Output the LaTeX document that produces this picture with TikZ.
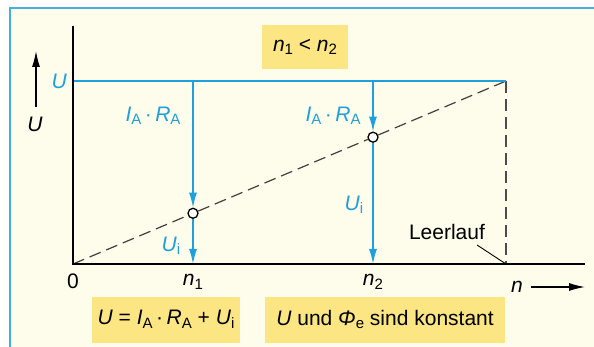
\documentclass[tikz,border=0pt]{standalone}
\usepackage{fontspec}
\setmainfont{Liberation Sans}
\usetikzlibrary{arrows.meta, positioning}
\definecolor{framebl}{HTML}{45B0E0}
\definecolor{cream}{HTML}{FEFCEB}
\definecolor{boxyel}{HTML}{FBE683}
\definecolor{curvebl}{HTML}{1EA0DC}
\newcommand{\vi}[2]{\textit{#1}\raisebox{-0.32ex}{\fontsize{15}{15}\selectfont #2}}
\tikzset{
  lbl/.style={font=\fontsize{21}{23}\selectfont, inner sep=1pt},
  bluelbl/.style={lbl, text=curvebl},
  yelbox/.style={fill=boxyel, lbl, inner sep=0pt, minimum height=46pt},
  bluearr/.style={draw=curvebl, line width=1.5pt, -{Latex[length=15pt,width=8pt]}},
  blackarr/.style={line width=1.2pt, -{Latex[length=16pt,width=8pt]}},
  opdot/.style={circle, draw, line width=1.3pt, fill=white, inner sep=0pt, minimum size=10pt},
}
\begin{document}
\begin{tikzpicture}[x=1pt, y=-1pt]
    \useasboundingbox (0,0) rectangle (594,347);
    \clip (0,0) rectangle (594,347);
    % Frame
    \draw[framebl, line width=2pt, fill=cream] (10,8) rectangle (620,370);
    % Points
    \coordinate (O) at (73,264);
    \coordinate (ytop) at (73,26);
    \coordinate (xend) at (585,264);
    \coordinate (uleft) at (73,81);
    \coordinate (umax) at (506,81);
    \coordinate (idle) at (506,264);
    \coordinate (top1) at (193,81);
    \coordinate (foot1) at (193,264);
    \coordinate (top2) at (373,81);
    \coordinate (foot2) at (373,264);
    \node[opdot] (p1) at (193,213.3) {};
    \node[opdot] (p2) at (373,137.2) {};
    % Yellow boxes
    \node[yelbox, minimum width=86pt, minimum height=44pt] (cmp) at (305,47) {\vi{n}{1} < \vi{n}{2}};
    \node[yelbox, minimum width=148pt] (eqn) at (166,319.5) {\textit{U} = \vi{I}{A}\,·\,\vi{R}{A} + \vi{U}{i}};
    \node[yelbox, minimum width=240pt] (const) at (385,319.5) {\textit{U} und \vi{Φ}{e} sind konstant};
    % Dashed lines
    \draw[black!75, line width=1.2pt, dash pattern=on 12pt off 6pt] (O) -- (p1) -- (p2) -- (umax);
    \draw[black!70, line width=1.3pt, dash pattern=on 12pt off 6pt] (umax) -- (idle);
    % U level
    \draw[curvebl, line width=1.5pt] (uleft) -- (umax);
    \draw[bluearr] (top1) -- (p1);
    \draw[bluearr] (p1) -- (foot1);
    \draw[bluearr] (top2) -- (p2);
    \draw[bluearr] (p2) -- (foot2);
    % Axes
    \draw[line width=1.8pt] (ytop) -- (O) -- (xend);
    % Labels
    \node[bluelbl, left=5pt of uleft] (ulev) {\textit{U}};
    \node[bluelbl] (ir1) at (153,116) {\vi{I}{A}\,·\,\vi{R}{A}};
    \node[bluelbl] (ir2) at (333,116) {\vi{I}{A}\,·\,\vi{R}{A}};
    \node[bluelbl] (ui1) at (171,246) {\vi{U}{i}};
    \node[bluelbl] (ui2) at (354,205) {\vi{U}{i}};
    \node[lbl, below=9pt of O] (zero) {0};
    \node[lbl, below=9pt of foot1] (n1) {\vi{n}{1}};
    \node[lbl, below=9pt of foot2] (n2) {\vi{n}{2}};
    \node[lbl] (leer) at (447,232) {Leerlauf};
    \coordinate (leerend) at (477,245);
    \draw[line width=0.9pt] (leerend) -- (idle);
    % Axis names
    \node[lbl] (uname) at (35,124) {\textit{U}};
    \coordinate (ua) at (36,107);
    \coordinate (ub) at (36,51);
    \draw[blackarr] (ua) -- (ub);
    \node[lbl] (nname) at (517,287) {\textit{n}};
    \coordinate (na) at (531,287);
    \coordinate (nb) at (585,287);
    \draw[blackarr] (na) -- (nb);
\end{tikzpicture}
\end{document}
